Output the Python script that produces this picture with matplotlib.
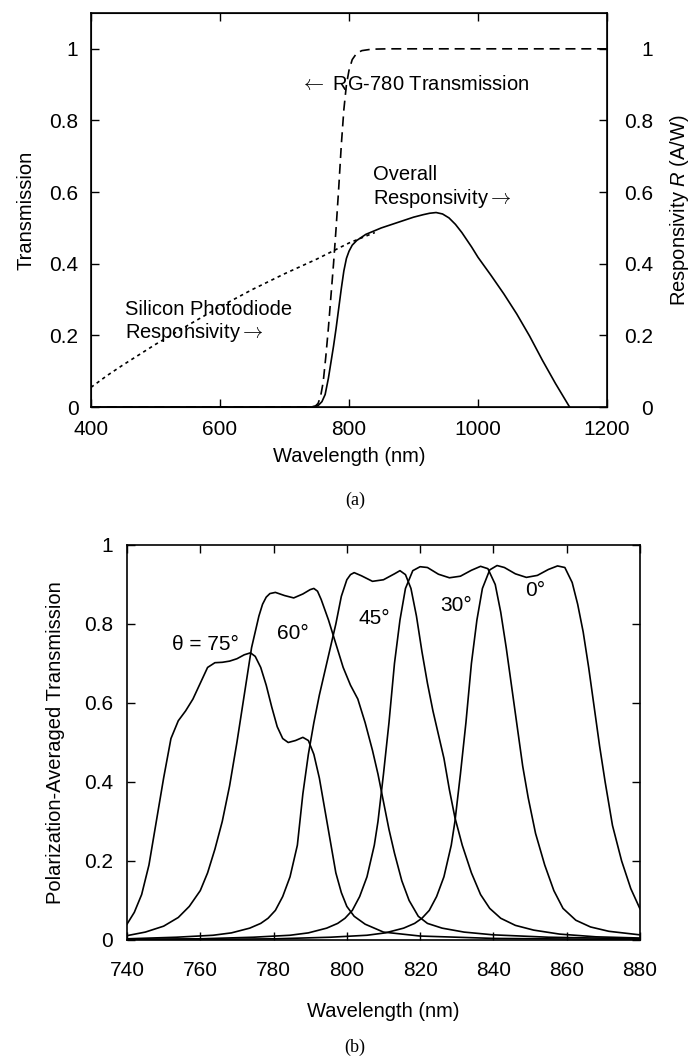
import matplotlib
matplotlib.use('Agg')
import matplotlib.pyplot as plt

plt.rcParams['font.family'] = ['Liberation Sans', 'DejaVu Sans']
plt.rcParams['mathtext.fontset'] = 'custom'
plt.rcParams['mathtext.rm'] = 'Liberation Sans'
plt.rcParams['mathtext.it'] = 'Liberation Sans:italic'

# ---- panel (a) data ----
rg780_wl = [400, 740, 748, 752, 756, 760, 764, 768, 772, 776, 780, 784, 788, 792, 796,
            800, 805, 812, 820, 835, 860, 1200]
rg780_t = [0, 0, 0.003, 0.01, 0.03, 0.07, 0.14, 0.22, 0.31, 0.40, 0.50, 0.61, 0.73, 0.83, 0.90,
           0.94, 0.97, 0.988, 0.995, 0.999, 1.0, 1.0]

si_wl = [400, 425, 450, 500, 550, 600, 650, 700, 750, 780, 800, 830, 840]
si_r = [0.055, 0.088, 0.118, 0.175, 0.228, 0.28, 0.328, 0.372, 0.413, 0.44, 0.458, 0.48, 0.487]

overall_wl = [400, 745, 752, 758, 763, 768, 772, 776, 780, 784, 788, 792, 796, 800, 805, 812,
              826, 850, 875, 900, 915, 925, 935, 945, 955, 965, 975, 990, 1000, 1020, 1040,
              1060, 1080, 1100, 1120, 1142]
overall_r = [0, 0, 0.004, 0.015, 0.035, 0.08, 0.125, 0.17, 0.22, 0.275, 0.33, 0.38, 0.415, 0.435,
             0.452, 0.465, 0.482, 0.50, 0.515, 0.53, 0.537, 0.541, 0.543, 0.539, 0.528, 0.51,
             0.487, 0.447, 0.418, 0.368, 0.316, 0.26, 0.198, 0.13, 0.066, 0]

a_xticks = [400, 600, 800, 1000, 1200]
a_yticks = [0, 0.2, 0.4, 0.6, 0.8, 1]
a_ylabels = ['0', '0.2', '0.4', '0.6', '0.8', '1']

# ---- panel (b) data ----
wl_75 = [740, 742, 744, 746, 748, 750, 752, 754, 756, 758, 760, 762, 764, 766, 768, 770, 772,
         773.7, 775, 776.5, 778, 779.5, 781, 782.5, 784, 786, 788, 789.5, 791, 792.5, 794,
         795.5, 797, 798.5, 800, 802, 805, 810, 820, 840, 880]
t_75 = [0.04, 0.07, 0.115, 0.19, 0.30, 0.41, 0.51, 0.555, 0.58, 0.61, 0.65, 0.69, 0.702, 0.703,
        0.706, 0.712, 0.722, 0.727, 0.718, 0.69, 0.645, 0.59, 0.54, 0.51, 0.50, 0.505, 0.513,
        0.505, 0.47, 0.41, 0.33, 0.25, 0.17, 0.12, 0.085, 0.06, 0.04, 0.02, 0.01, 0.004, 0.001]

wl_60 = [740, 745, 750, 754, 757, 760, 762, 764, 766, 768, 770, 772, 774, 776, 777, 778, 779,
         780.5, 783, 785.5, 788, 790, 791, 792, 793, 795, 797, 799, 801, 803, 805, 807, 808.5,
         810, 811.5, 813, 815, 817, 819.5, 822, 826, 832, 840, 855, 880]
t_60 = [0.011, 0.02, 0.035, 0.057, 0.085, 0.125, 0.17, 0.23, 0.30, 0.39, 0.50, 0.62, 0.74, 0.82,
        0.85, 0.868, 0.877, 0.88, 0.872, 0.866, 0.876, 0.887, 0.89, 0.883, 0.862, 0.81, 0.75,
        0.69, 0.645, 0.61, 0.55, 0.48, 0.42, 0.35, 0.28, 0.22, 0.15, 0.10, 0.06, 0.042, 0.03,
        0.02, 0.013, 0.007, 0.003]

wl_45 = [740, 753.5, 763.5, 768.5, 773.5, 776.5, 778.5, 780.5, 782.5, 784.5, 786.5, 788, 789.5,
         791, 792.5, 794, 795.5, 797, 798.5, 800, 801, 802, 804, 807, 810, 813, 814.5, 816,
         817.5, 819, 820.5, 822, 823.5, 825, 826.5, 828, 829.5, 831.5, 834, 836.5, 839, 842,
         846, 851, 858, 868, 880]
t_45 = [0.003, 0.007, 0.012, 0.018, 0.03, 0.042, 0.055, 0.075, 0.11, 0.16, 0.24, 0.37, 0.47,
        0.55, 0.62, 0.68, 0.74, 0.80, 0.87, 0.912, 0.925, 0.93, 0.922, 0.908, 0.912, 0.927,
        0.935, 0.925, 0.89, 0.82, 0.73, 0.65, 0.58, 0.52, 0.46, 0.38, 0.31, 0.24, 0.17, 0.115,
        0.08, 0.055, 0.037, 0.025, 0.015, 0.008, 0.005]

wl_30 = [740, 760, 774.5, 784.5, 789.5, 794.5, 797.5, 799.5, 801.5, 803.5, 805.5, 807.5, 808.5,
         810, 811.5, 813, 814.5, 816, 818, 820, 822, 825, 828, 831, 834, 836.5, 838.5, 840.5,
         842, 843.5, 845, 846.5, 848, 849.5, 851.5, 854, 856.5, 859, 862.5, 866.5, 871.5, 880]
t_30 = [0.002, 0.003, 0.007, 0.012, 0.018, 0.03, 0.042, 0.055, 0.075, 0.11, 0.16, 0.24, 0.30,
        0.42, 0.55, 0.70, 0.81, 0.89, 0.935, 0.945, 0.943, 0.926, 0.917, 0.921, 0.936, 0.946,
        0.94, 0.90, 0.83, 0.74, 0.64, 0.54, 0.44, 0.36, 0.27, 0.19, 0.125, 0.08, 0.05, 0.033,
        0.022, 0.013]

wl_0 = [740, 780.5, 795.5, 805.5, 810.5, 815.5, 818.5, 820.5, 822.5, 824.5, 826.5, 828.5, 829.5,
        831, 832.5, 834, 835.5, 837, 839, 841, 843, 846, 849, 852, 855, 857.5, 859.5, 861.5,
        863, 864.5, 866, 867.5, 869, 870.5, 872.5, 875, 877.5, 880]
t_0 = [0.0, 0.003, 0.007, 0.012, 0.018, 0.03, 0.042, 0.055, 0.075, 0.11, 0.16, 0.24, 0.30, 0.42,
       0.55, 0.70, 0.81, 0.89, 0.937, 0.948, 0.943, 0.927, 0.918, 0.923, 0.938, 0.947, 0.943,
       0.905, 0.85, 0.78, 0.69, 0.59, 0.49, 0.40, 0.29, 0.20, 0.13, 0.079]

b_xticks = [740, 760, 780, 800, 820, 840, 860, 880]
b_yticks = [0, 0.2, 0.4, 0.6, 0.8, 1]

fig = plt.figure(figsize=(6.92, 10.57), dpi=100)

# ---------------- panel (a) ----------------
ax = fig.add_axes([0.1315, 0.6149, 0.7457, 0.3728])
ax.plot(rg780_wl, rg780_t, color='black', lw=1.2, dashes=(6, 3.5))
ax.plot(si_wl, si_r, color='black', lw=1.2, dashes=(2, 2.2))
ax.plot(overall_wl, overall_r, color='black', lw=1.2)
ax.set_xlim(400, 1200)
ax.set_ylim(0, 1.1)
ax.set_xticks(a_xticks)
ax.set_yticks(a_yticks)
ax.set_yticklabels(a_ylabels)
ax.tick_params(direction='in', length=6, width=1, labelsize=15, top=True)
ax.tick_params(axis='y', pad=9)
ax.tick_params(axis='x', pad=9)
for s in ax.spines.values():
    s.set_linewidth(1.2)
ax.set_xlabel('Wavelength (nm)', fontsize=14.5, labelpad=6)
ax.set_ylabel('Transmission', fontsize=14.5, labelpad=10)

ax2 = ax.twinx()
ax2.set_ylim(0, 1.1)
ax2.set_yticks(a_yticks)
ax2.set_yticklabels(a_ylabels)
ax2.tick_params(direction='in', length=6, width=1, labelsize=15, pad=33)
for lbl in ax2.get_yticklabels():
    lbl.set_ha('right')
ax2.set_ylabel('Responsivity $R$ (A/W)', fontsize=14.5, labelpad=11)

ax.text(724, 0.90, r'$\leftarrow$ RG-780 Transmission', fontsize=14.5, va='center',
        math_fontfamily='cm')
ax.text(837, 0.613, 'Overall\nResponsivity$\\rightarrow$', fontsize=14.5, va='center',
        linespacing=1.15, math_fontfamily='cm')
ax.text(452, 0.237, 'Silicon Photodiode\nResponsivity$\\rightarrow$', fontsize=14.5, va='center',
        linespacing=1.15, math_fontfamily='cm')

fig.text(0.513, 0.527, '(a)', fontsize=13, family='Liberation Serif', ha='center', va='center')

# ---------------- panel (b) ----------------
bx = fig.add_axes([0.1835, 0.1107, 0.7413, 0.3737])
for wl, t in [(wl_75, t_75), (wl_60, t_60), (wl_45, t_45), (wl_30, t_30), (wl_0, t_0)]:
    bx.plot(wl, t, color='black', lw=1.2)
bx.set_xlim(740, 880)
bx.set_ylim(0, 1)
bx.set_xticks(b_xticks)
bx.set_yticks(b_yticks)
bx.set_yticklabels(['0', '0.2', '0.4', '0.6', '0.8', '1'])
bx.tick_params(direction='in', length=6, width=1, labelsize=15, top=True, right=True)
bx.tick_params(axis='x', pad=15)
bx.tick_params(axis='y', pad=10)
for s in bx.spines.values():
    s.set_linewidth(1.2)
bx.set_xlabel('Wavelength (nm)', fontsize=14.5, labelpad=16)
bx.set_ylabel('Polarization-Averaged Transmission', fontsize=14.5, labelpad=14)

bx.text(752.3, 0.747, '\u03b8 = 75\u00b0', fontsize=15, va='center')
bx.text(785.3, 0.777, '60\u00b0', fontsize=15, va='center', ha='center')
bx.text(807.4, 0.815, '45\u00b0', fontsize=15, va='center', ha='center')
bx.text(829.7, 0.848, '30\u00b0', fontsize=15, va='center', ha='center')
bx.text(851.5, 0.886, '0\u00b0', fontsize=15, va='center', ha='center')

fig.text(0.513, 0.009, '(b)', fontsize=13, family='Liberation Serif', ha='center', va='center')

fig.savefig('out.png', dpi=100)
